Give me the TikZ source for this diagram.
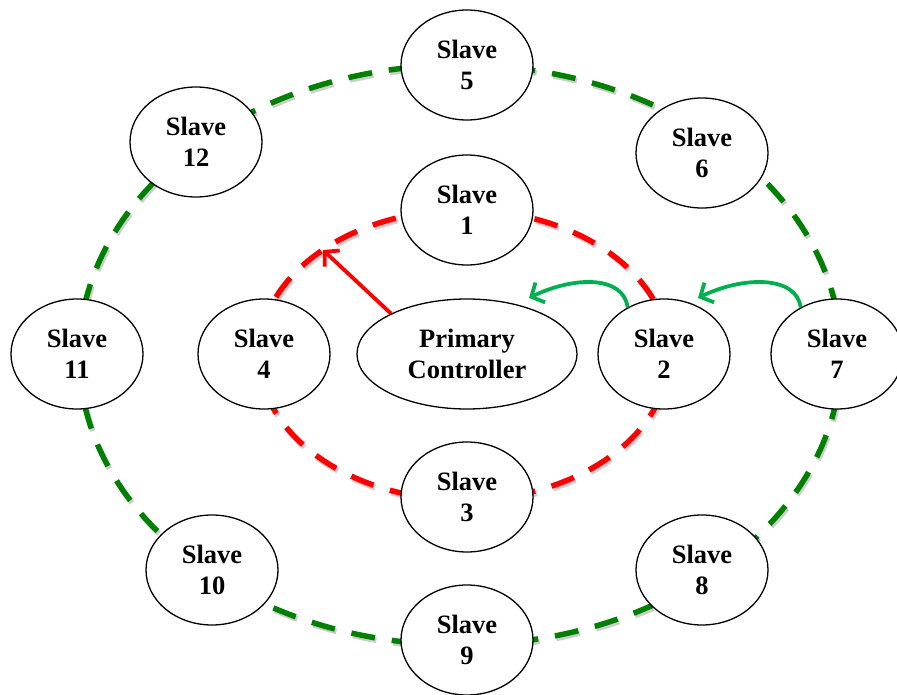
\documentclass[tikz,border=0pt]{standalone}
\usepackage{fontspec}
\setmainfont{Liberation Serif}
\usetikzlibrary{shapes.geometric,arrows.meta}
\definecolor{ringgreen}{RGB}{0,128,0}
\definecolor{arrgreen}{RGB}{0,176,80}
\definecolor{shadowgray}{RGB}{205,205,205}
\tikzset{
  slave/.style={ellipse, draw=black, line width=1.3pt, fill=white,
    minimum width=132pt, minimum height=110pt, inner sep=0pt, align=center,
    font=\fontsize{26.5}{31}\selectfont\bfseries},
  ring/.style={line width=5.5pt, dash pattern=on 24pt off 17pt},
  ringshadow/.style={ring, draw=shadowgray, shift={(1.5,2.5)}},
  garrow/.style={draw=arrgreen, line width=3.8pt, -{Straight Barb[length=10pt,width=22pt,line width=3.8pt]}},
  rarrow/.style={draw=red, line width=3.8pt, -{Straight Barb[length=10pt,width=22pt,line width=3.8pt]}}
}
\begin{document}
\begin{tikzpicture}[x=1pt,y=-1pt]
\useasboundingbox (0,0) rectangle (897,695);
% rings (shadow then colour)
\draw[ringshadow] (460,355) ellipse [x radius=381, y radius=290];
\draw[ring, draw=ringgreen] (460,355) ellipse [x radius=381, y radius=290];
\draw[ringshadow] (464,355) ellipse [x radius=205, y radius=145];
\draw[ring, draw=red] (464,355) ellipse [x radius=205, y radius=145];
% nodes
\node[slave] (S5) at (467,65) {Slave\\5};
\node[slave] (S6) at (702,153) {Slave\\6};
\node[slave] (S12) at (196,142) {Slave\\12};
\node[slave] (S1) at (467,210) {Slave\\1};
\node[slave] (S11) at (77,354) {Slave\\11};
\node[slave] (S4) at (264,354) {Slave\\4};
\node[slave, minimum width=220pt] (PC) at (467,354) {Primary\\Controller};
\node[slave] (S2) at (664,354) {Slave\\2};
\node[slave] (S7) at (837,354) {Slave\\7};
\node[slave] (S3) at (467,497) {Slave\\3};
\node[slave] (S10) at (212,570) {Slave\\10};
\node[slave] (S9) at (467,640) {Slave\\9};
\node[slave] (S8) at (702,570) {Slave\\8};
% arrows
\coordinate (redtip) at (323,250);
\coordinate (g1end) at (529,298);
\coordinate (g2end) at (698,298);
\draw[rarrow] (PC.152) -- (redtip);
\draw[garrow] (S2.128) .. controls +(-4,-32) and +(45,-22) .. (g1end);
\draw[garrow] (S7.128) .. controls +(-4,-32) and +(45,-22) .. (g2end);
\end{tikzpicture}
\end{document}
